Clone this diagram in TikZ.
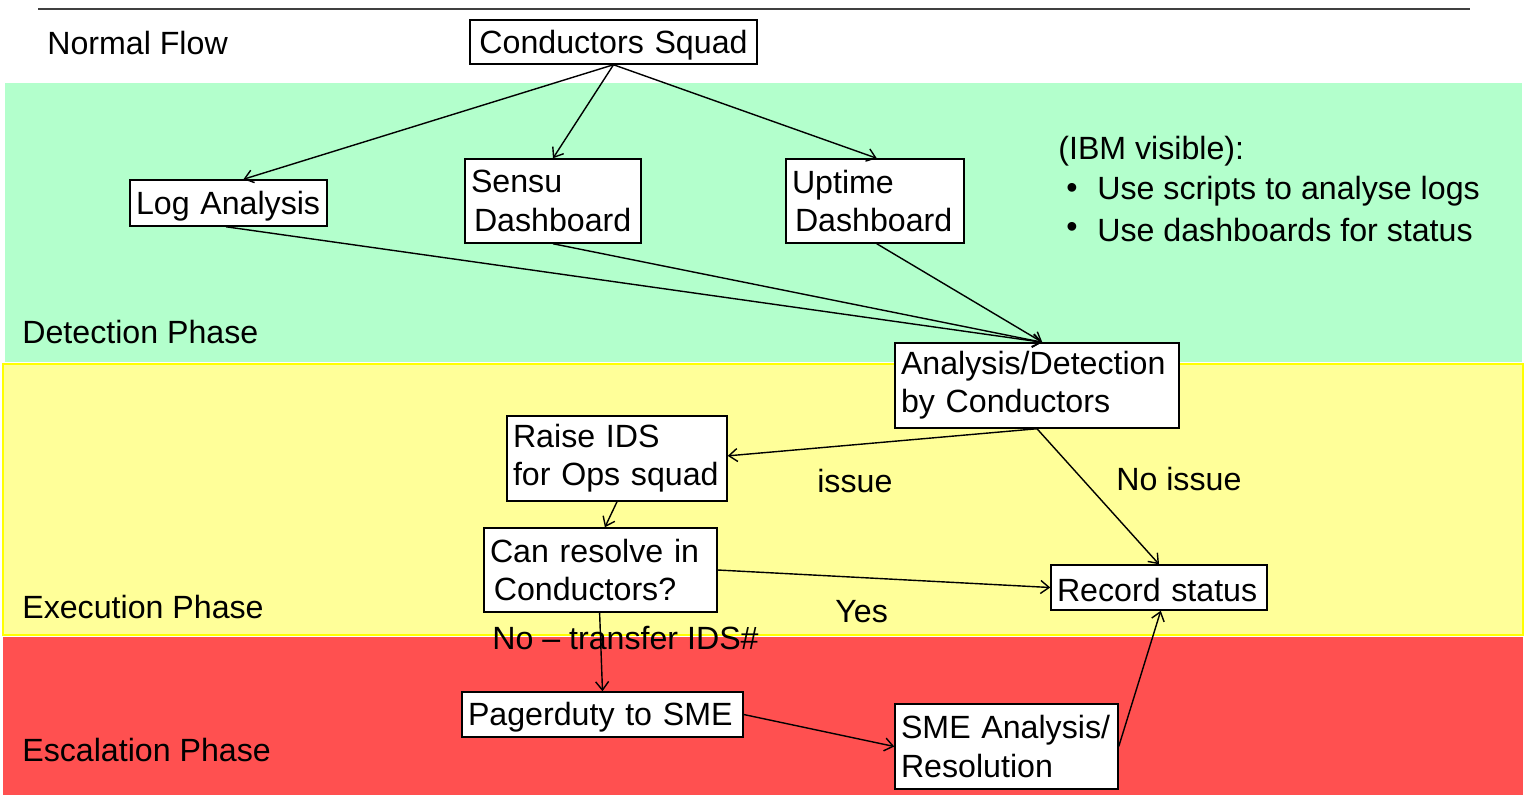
\documentclass[tikz,border=0pt]{standalone}
\usepackage{fontspec}
\setmainfont{Liberation Sans}
\usetikzlibrary{arrows.meta,calc}
\definecolor{bandgreen}{HTML}{B3FFCC}
\definecolor{bandyellow}{HTML}{FFFF99}
\definecolor{bandyellowedge}{HTML}{FFFF00}
\definecolor{bandred}{HTML}{FF5050}
\definecolor{topline}{HTML}{404040}
\newcommand{\lowr}[1]{\raisebox{-1.7pt}[\height][\depth]{#1}}
\tikzset{
  box/.style={draw=black, fill=white, line width=0.85pt, inner xsep=0.12cm, inner ysep=0pt, align=left, font=\fontsize{18.3}{21.8}\selectfont},
  lbl/.style={inner sep=0pt, font=\fontsize{18.3}{21.8}\selectfont},
  conn/.style={line width=0.8pt, -{Straight Barb[length=1.7mm,width=2.6mm]}}
}
\begin{document}
\begin{tikzpicture}[x=0.02cm,y=-0.02cm]
\useasboundingbox (0,0) rectangle (1525,795);
\fill[white] (0,0) rectangle (1525,795);
% bands
\fill[bandgreen] (5,83) rectangle (1522,362);
\filldraw[fill=bandyellow, draw=bandyellowedge, line width=0.6pt] (3,364) rectangle (1523,635);
\fill[bandred] (3,637) rectangle (1523,795);
\draw[topline, line width=1.1pt] (38,9) -- (1470,9);
% phase labels
\node[lbl, anchor=west] (nf) at (47,43) {Normal Flow};
\node[lbl, anchor=west] (dp) at (22,332) {Detection Phase};
\node[lbl, anchor=west] (ep) at (22,607) {Execution Phase};
\node[lbl, anchor=west] (sp) at (22,750) {Escalation Phase};
% IBM note
\node[lbl, anchor=west] (ibm) at (1058,151) {(IBM visible):};
\node[lbl, anchor=west] (b1) at (1066,191) {•};
\node[lbl, anchor=west] (t1) at (1097,191) {Use scripts to analyse logs};
\node[lbl, anchor=west] (b2) at (1066,230) {•};
\node[lbl, anchor=west] (t2) at (1097,230) {Use dashboards for status};
% boxes
\node[box, minimum width=5.74cm, minimum height=0.88cm, align=center, text width=5.5cm] (cs) at (613.5,42) {\lowr{Conductors Squad}};
\node[box, text width=3.70cm, minimum height=0.92cm] (la) at (228.5,203) {\lowr{Log Analysis}};
\node[box, text width=3.28cm, minimum height=1.68cm] (sd) at (553,201) {\mbox{Sensu}\\\mbox{\hspace*{1.7pt}Dashboard}};
\node[box, text width=3.32cm, minimum height=1.68cm] (ud) at (875,201) {\mbox{Uptime}\\\mbox{\hspace*{1.7pt}Dashboard}};
\node[box, text width=5.44cm, minimum height=1.70cm] (adc) at (1037,385.5) {\mbox{Analysis/Detection}\\\mbox{by Conductors}};
\node[box, text width=4.16cm, minimum height=1.70cm] (ri) at (617,458.5) {\mbox{Raise IDS}\\\mbox{for Ops squad}};
\node[box, text width=4.42cm, minimum height=1.68cm] (cr) at (600.5,570) {\mbox{Can resolve in}\\\mbox{\hspace*{2.2pt}Conductors?}};
\node[box, text width=4.08cm, minimum height=0.90cm] (rs) at (1159,587.5) {\lowr{Record status}};
\node[box, text width=5.38cm, minimum height=0.90cm] (pd) at (602.5,714.5) {\lowr{Pagerduty to SME}};
\node[box, text width=4.22cm, minimum height=1.70cm] (sa) at (1006.5,746.5) {\mbox{SME Analysis/}\\\mbox{Resolution}};
% edge labels
\node[lbl, anchor=west] (lissue) at (817,481) {issue};
\node[lbl, anchor=west] (lnoissue) at (1116,479) {No issue};
\node[lbl, anchor=west] (lyes) at (835,612) {Yes};
% connectors
\draw[conn] (cs.south) -- ([xshift=8.5]la.north);
\draw[conn] (cs.south) -- (sd.north);
\draw[conn] (cs.south) -- ([xshift=1]ud.north);
\draw[conn] ([xshift=-1.5]la.south) -- ([xshift=3]adc.north);
\draw[conn] (sd.south) -- ([xshift=3]adc.north);
\draw[conn] ([xshift=1]ud.south) -- ([xshift=3]adc.north);
\draw[conn] (adc.south) -- ([yshift=1.5]ri.east);
\draw[conn] (adc.south) -- (rs.north);
\draw[conn] (ri.south) -- ([xshift=2.5]cr.north);
\draw[conn] (cr.east) -- (rs.west);
\draw[conn] ([xshift=-0.5]cr.south) -- (pd.north);
\draw[conn] (pd.east) -- (sa.west);
\draw[conn] (sa.east) -- ([xshift=1]rs.south);
\node[lbl, anchor=west] (lno) at (492,638) {No – transfer IDS\#};
\end{tikzpicture}
\end{document}
